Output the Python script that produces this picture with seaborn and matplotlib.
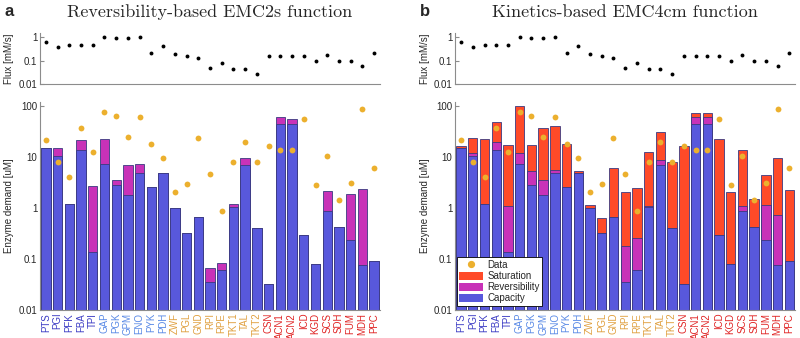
import matplotlib
matplotlib.use('Agg')
import matplotlib.pyplot as plt
import seaborn as sns
import pandas as pd
from matplotlib.ticker import FixedLocator, FixedFormatter, NullLocator
from matplotlib.patches import Patch
from matplotlib.lines import Line2D

enzymes = ['PTS', 'PGI', 'PFK', 'FBA', 'TPI', 'GAP', 'PGK', 'GPM', 'ENO', 'PYK', 'PDH',
           'ZWF', 'PGL', 'GND', 'RPI', 'RPE', 'TKT1', 'TAL', 'TKT2',
           'CSN', 'ACN1', 'ACN2', 'ICD', 'KGD', 'SCS', 'SDH', 'FUM', 'MDH', 'PPC']
groups = ['glyc1'] * 5 + ['glyc2'] * 6 + ['ppp'] * 8 + ['tca'] * 10

flux = [0.6, 0.39, 0.47, 0.47, 0.47, 0.97, 0.94, 0.94, 0.97, 0.2, 0.4,
        0.19, 0.16, 0.13, 0.049, 0.08, 0.045, 0.045, 0.027,
        0.16, 0.16, 0.16, 0.16, 0.094, 0.17, 0.094, 0.094, 0.06, 0.22]

data_conc = [21.9, 7.85, 4.05, 36.6, 12.4, 77, 65.6, 25, 60, 18, 9.6,
             2.09, 3.0, 23.6, 4.7, 0.89, 7.9, 20, 7.9,
             16.2, 13.7, 13.7, 56, 2.87, 10.5, 1.46, 3.14, 89, 6.2]

capacity = [14.8, 10.3, 1.2, 13.8, 0.135, 7.4, 2.8, 1.77, 4.8, 2.58, 4.8,
            1.0, 0.33, 0.66, 0.036, 0.06, 1.05, 6.9, 0.41,
            0.033, 45, 45, 0.3, 0.08, 0.86, 0.43, 0.235, 0.075, 0.09]

# panel a: capacity + reversibility
rev_a = [14.8, 14.8, 1.2, 21.5, 2.74, 22.2, 3.5, 6.9, 7.2, 2.58, 4.8,
         1.02, 0.33, 0.66, 0.0656, 0.082, 1.2, 9.6, 0.41,
         0.033, 60, 57, 0.3, 0.08, 2.19, 0.43, 1.88, 2.36, 0.09]

# panel b: capacity + reversibility + saturation
rev_b = [15.3, 12.3, 1.2, 19.4, 1.1, 11.8, 5.3, 3.5, 5.7, 2.6, 4.9,
         1.02, 0.33, 0.67, 0.18, 0.26, 1.1, 8.7, 0.41,
         0.033, 60, 60, 0.3, 0.08, 1.1, 0.43, 1.14, 0.73, 0.09]
total_b = [16.4, 24, 22.9, 49, 17.7, 103, 17, 38, 40.5, 18, 5.4,
           1.14, 0.63, 6.1, 2.1, 2.45, 12.7, 30.5, 7.9,
           16.2, 74, 74, 23, 2.09, 14.1, 1.48, 4.4, 9.6, 2.24]

CAP = '#5858dc'
REV = '#c832b8'
SAT = '#ff4a28'
GOLD = '#ecb02e'
EDGE = '#3a3a80'
GROUP_COL = {'glyc1': '#3c3cc4', 'glyc2': '#5a8ae6', 'ppp': '#e0a040', 'tca': '#e02424'}
AXC = '#8c8c8c'

sns.set_style('white')
plt.rcParams['font.family'] = ['Liberation Sans', 'DejaVu Sans']

fig = plt.figure(figsize=(8, 3.38), dpi=100)


def style_log_axis(ax, ticks, labels, lim):
    ax.set_yscale('log', nonpositive='clip')
    ax.set_ylim(*lim)
    ax.yaxis.set_major_locator(FixedLocator(ticks))
    ax.yaxis.set_major_formatter(FixedFormatter(labels))
    ax.yaxis.set_minor_locator(NullLocator())
    ax.set_xlim(-0.5, len(enzymes) - 0.5)
    for s in ['top', 'right']:
        ax.spines[s].set_visible(False)
    for s in ['left', 'bottom']:
        ax.spines[s].set_color(AXC)
        ax.spines[s].set_linewidth(0.8)
    ax.tick_params(axis='y', direction='in', length=3, color=AXC, labelsize=7,
                   pad=2, left=True)
    ax.set_xlabel('')


def panel(left, rev, total, title, letter, legend):
    df = pd.DataFrame({'enzyme': enzymes, 'flux': flux, 'data': data_conc,
                       'capacity': capacity, 'rev': rev,
                       'total': total if total is not None else rev})
    ax_f = fig.add_axes([left, 0.7515, 0.425, 0.151])
    ax_b = fig.add_axes([left, 0.0828, 0.425, 0.615])

    # flux
    sns.stripplot(data=df, x='enzyme', y='flux', order=enzymes, color='black',
                  jitter=False, size=2.8, log_scale=True, ax=ax_f)
    style_log_axis(ax_f, [0.01, 0.1, 1], ['0.01', '0.1', '1'], (0.01, 1.5))
    ax_f.set_xticks([])
    ax_f.set_ylabel('Flux [mM/s]', fontsize=7, labelpad=3)

    # enzyme demand (stacked by overlaying cumulative bars)
    kw = dict(data=df, x='enzyme', order=enzymes, saturation=1, width=0.8,
              edgecolor=EDGE, linewidth=0.6, ax=ax_b)
    if total is not None:
        sns.barplot(y='total', color=SAT, **kw)
    sns.barplot(y='rev', color=REV, **kw)
    sns.barplot(y='capacity', color=CAP, **kw)
    sns.stripplot(data=df, x='enzyme', y='data', order=enzymes, color=GOLD,
                  jitter=False, size=4.2, ax=ax_b, zorder=5)
    style_log_axis(ax_b, [0.01, 0.1, 1, 10, 100],
                   ['0.01', '0.1', '1', '10', '100'], (0.01, 120))
    ax_b.set_ylabel('Enzyme demand [uM]', fontsize=7, labelpad=3)
    ax_b.tick_params(axis='x', length=0, pad=2, labelsize=7, rotation=90)
    for lbl, g in zip(ax_b.get_xticklabels(), groups):
        lbl.set_color(GROUP_COL[g])

    if legend:
        handles = [Line2D([], [], marker='o', linestyle='none', color=GOLD,
                          markersize=4.2, label='Data'),
                   Patch(facecolor=SAT, edgecolor='none', label='Saturation'),
                   Patch(facecolor=REV, edgecolor='none', label='Reversibility'),
                   Patch(facecolor=CAP, edgecolor='none', label='Capacity')]
        leg = ax_b.legend(handles=handles, loc='lower left',
                          bbox_to_anchor=(0.005, 0.02), fontsize=7,
                          frameon=True, fancybox=False, edgecolor='black',
                          framealpha=1, handlelength=2.4, handleheight=0.9,
                          labelspacing=0.12, borderpad=0.25,
                          handletextpad=0.5, borderaxespad=0)
        leg.get_frame().set_linewidth(0.6)

    cx = left + 0.425 / 2
    fig.text(cx, 1 - 12 / 338, title, ha='center', va='center',
             fontsize=13, family='cmr10')
    fig.text(left - 0.044, 1 - 11 / 338, letter, ha='left', va='center',
             fontsize=12, weight='bold')


panel(0.05, rev_a, None, 'Reversibility-based EMC2s function', 'a', False)
panel(0.569, rev_b, total_b, 'Kinetics-based EMC4cm function', 'b', True)

fig.savefig('out.png', dpi=100)
